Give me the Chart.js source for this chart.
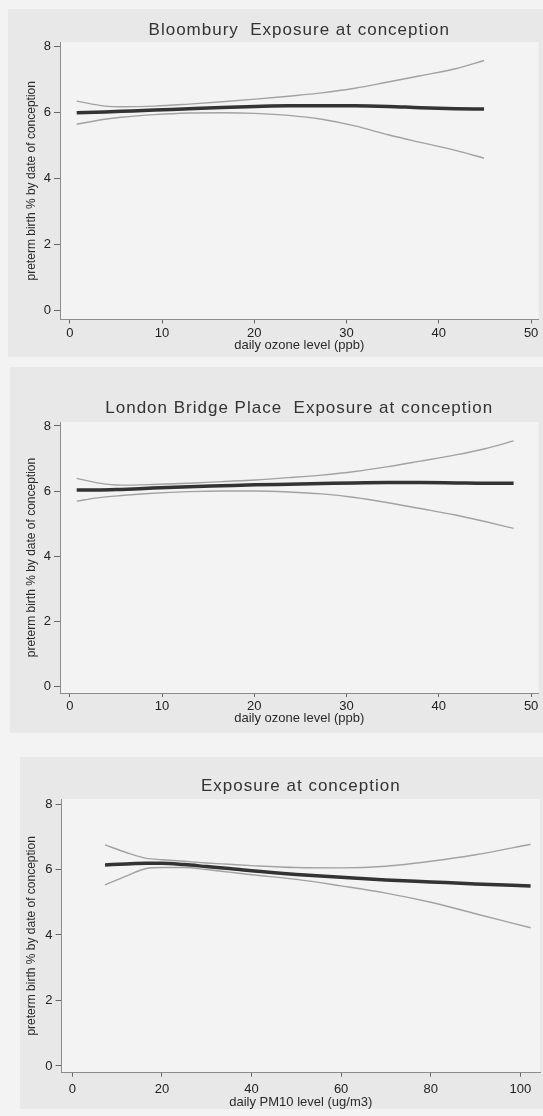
<!DOCTYPE html>
<html><head><meta charset="utf-8">
<script src="https://cdn.jsdelivr.net/npm/chart.js@4.4.0/dist/chart.umd.min.js"></script>
<style>
html,body{margin:0;padding:0;background:#f3f3f3;}
#wrap{position:relative;width:543px;height:1116px;overflow:hidden;background:#f3f3f3;}
.panel{position:absolute;background:#e8e8e8;}
canvas{position:absolute;left:0;}
</style></head><body><div id="wrap">
<div class="panel" style="left:8px;top:9px;width:535px;height:348px"></div>
<div class="panel" style="left:10px;top:367px;width:533px;height:366px"></div>
<div class="panel" style="left:20px;top:757px;width:523px;height:352px"></div>
<canvas id="c1" width="543" height="360" style="top:0px;width:543px;height:360px"></canvas>
<canvas id="c2" width="543" height="380" style="top:360px;width:543px;height:380px"></canvas>
<canvas id="c3" width="543" height="376" style="top:740px;width:543px;height:376px"></canvas>
</div>
<script>
// ---- data ----
const yTicks = [0, 2, 4, 6, 8];
const xTicksOzone = [0, 10, 20, 30, 40, 50];
const xTicksPM10 = [0, 20, 40, 60, 80, 100];

const titles = ['Bloombury  Exposure at conception', 'London Bridge Place  Exposure at conception', 'Exposure at conception'];
const xTitles = ['daily ozone level (ppb)', 'daily ozone level (ppb)', 'daily PM10 level (ug/m3)'];
const yTitle = 'preterm birth % by date of conception';

const bloomX     = [0.75, 3.8, 5.6, 9.2, 12.9, 16.5, 20.1, 23.7, 27.3, 30.9, 34.5, 38, 41.8, 44.9];
const bloomFit   = [6.0, 6.02, 6.04, 6.08, 6.12, 6.16, 6.19, 6.21, 6.21, 6.21, 6.19, 6.15, 6.12, 6.11];
const bloomUpper = [6.35, 6.2, 6.18, 6.2, 6.26, 6.33, 6.41, 6.5, 6.6, 6.74, 6.93, 7.12, 7.33, 7.58];
const bloomLower = [5.65, 5.8, 5.86, 5.94, 5.99, 6.0, 5.98, 5.92, 5.8, 5.6, 5.33, 5.1, 4.86, 4.62];

const lbpX     = [0.75, 3, 5.6, 9, 12.9, 16.5, 20.1, 23.7, 27.3, 30.9, 34.5, 38, 41.8, 45, 48.1];
const lbpFit   = [6.03, 6.03, 6.05, 6.09, 6.13, 6.16, 6.19, 6.21, 6.23, 6.25, 6.26, 6.26, 6.25, 6.24, 6.24];
const lbpUpper = [6.39, 6.25, 6.18, 6.2, 6.24, 6.29, 6.34, 6.41, 6.49, 6.6, 6.75, 6.92, 7.11, 7.3, 7.54];
const lbpLower = [5.69, 5.79, 5.86, 5.93, 5.98, 6.0, 6.0, 5.97, 5.91, 5.8, 5.64, 5.46, 5.26, 5.06, 4.85];

const pmX     = [7.3, 12, 16.5, 20, 25, 30, 35, 40, 50, 60, 70, 80, 90, 102.3];
const pmFit   = [6.14, 6.17, 6.19, 6.19, 6.15, 6.09, 6.03, 5.96, 5.85, 5.76, 5.68, 5.62, 5.56, 5.5];
const pmUpper = [6.75, 6.52, 6.34, 6.3, 6.25, 6.2, 6.16, 6.12, 6.06, 6.05, 6.1, 6.25, 6.45, 6.77];
const pmLower = [5.53, 5.8, 6.03, 6.06, 6.06, 6.0, 5.92, 5.84, 5.7, 5.5, 5.28, 5.0, 4.65, 4.22];

// ---- drawing ----
const FONT = '"Liberation Sans", Arial, Helvetica, sans-serif';

const plotBg = {
  id: 'plotBg',
  beforeDraw(chart) {
    const {ctx, chartArea: a} = chart;
    ctx.save();
    ctx.fillStyle = '#f3f3f3';
    ctx.fillRect(a.left, a.top, a.right - a.left, a.bottom - a.top);
    ctx.restore();
  }
};
const titleSpacing = {
  id: 'titleSpacing',
  afterLayout(chart) {
    const tb = chart.titleBlock;
    if (tb && !tb._ls) {
      const d = tb.draw;
      tb.draw = function (ca) {
        const c = this.ctx; c.save(); c.letterSpacing = '1px'; d.call(this, ca); c.restore();
      };
      tb._ls = true;
    }
  }
};

function pts(xs, ys) { return xs.map((x, i) => ({x: x, y: ys[i]})); }

function makeChart(id, c) {
  const line = (data, color, w) => ({data, borderColor: color, borderWidth: w, showLine: true,
    pointRadius: 0, cubicInterpolationMode: 'monotone', fill: false});
  new Chart(document.getElementById(id), {
    type: 'scatter',
    data: {datasets: [
      line(pts(c.x, c.fit), '#333333', 3.5),
      line(pts(c.x, c.upper), '#a2a2a2', 1.4),
      line(pts(c.x, c.lower), '#a2a2a2', 1.4)
    ]},
    plugins: [plotBg, titleSpacing],
    options: {
      responsive: false, animation: false, devicePixelRatio: 1,
      layout: {padding: {left: 20, right: 543 - c.R, top: c.padTop, bottom: c.padBottom}},
      plugins: {
        legend: {display: false}, tooltip: {enabled: false},
        title: {display: true, text: c.title, fullSize: false, color: '#333',
          font: {family: FONT, size: 17, weight: 'normal'}, padding: {top: 0, bottom: c.titleGap}}
      },
      scales: {
        x: {
          type: 'linear', min: c.xMin, max: c.xMax,
          afterBuildTicks: s => { s.ticks = c.xTicks.map(v => ({value: v})); },
          afterFit: s => { s.height = c.Hx; },
          ticks: {color: '#222', font: {family: FONT, size: 13}, padding: c.xTickPad, maxRotation: 0, autoSkip: false},
          grid: {display: true, drawOnChartArea: false, drawTicks: true, tickLength: 4, color: '#666'},
          border: {display: true, color: '#8c8c8c', width: 1},
          title: {display: true, text: c.xTitle, color: '#2a2a2a', font: {family: FONT, size: 13}, padding: {top: 0, bottom: 0}}
        },
        y: {
          type: 'linear', min: c.yMin, max: c.yMax,
          afterBuildTicks: s => { s.ticks = yTicks.map(v => ({value: v})); },
          afterFit: s => { s.width = c.L - 20; },
          ticks: {color: '#222', font: {family: FONT, size: 13}, padding: 3},
          grid: {display: true, drawOnChartArea: false, drawTicks: true, tickLength: 6, color: '#666'},
          border: {display: true, color: '#8c8c8c', width: 1},
          title: {display: true, text: yTitle, color: '#2a2a2a', font: {family: FONT, size: 12}, padding: {top: 4.8, bottom: 0}}
        }
      }
    }
  });
}

makeChart('c1', {title: titles[0], xTitle: xTitles[0], x: bloomX, fit: bloomFit, upper: bloomUpper, lower: bloomLower,
  xTicks: xTicksOzone, xMin: -1.06, xMax: 50.8, yMin: -0.267, yMax: 8.142,
  L: 60, R: 538.5, padTop: 20.3, titleGap: 1.3, Hx: 33.7, padBottom: 6.8, xTickPad: 2});
makeChart('c2', {title: titles[1], xTitle: xTitles[1], x: lbpX, fit: lbpFit, upper: lbpUpper, lower: lbpLower,
  xTicks: xTicksOzone, xMin: -1.06, xMax: 50.8, yMin: -0.215, yMax: 8.123,
  L: 60, R: 538.5, padTop: 38.3, titleGap: 3.3, Hx: 33.7, padBottom: 13.3, xTickPad: 2});
makeChart('c3', {title: titles[2], xTitle: xTitles[2], x: pmX, fit: pmFit, upper: pmUpper, lower: pmLower,
  xTicks: xTicksPM10, xMin: -2.4, xMax: 104.4, yMin: -0.205, yMax: 8.153,
  L: 61.6, R: 540, padTop: 36.5, titleGap: 2.1, Hx: 37.1, padBottom: 6.2, xTickPad: 4.8});
</script>
</body></html>
